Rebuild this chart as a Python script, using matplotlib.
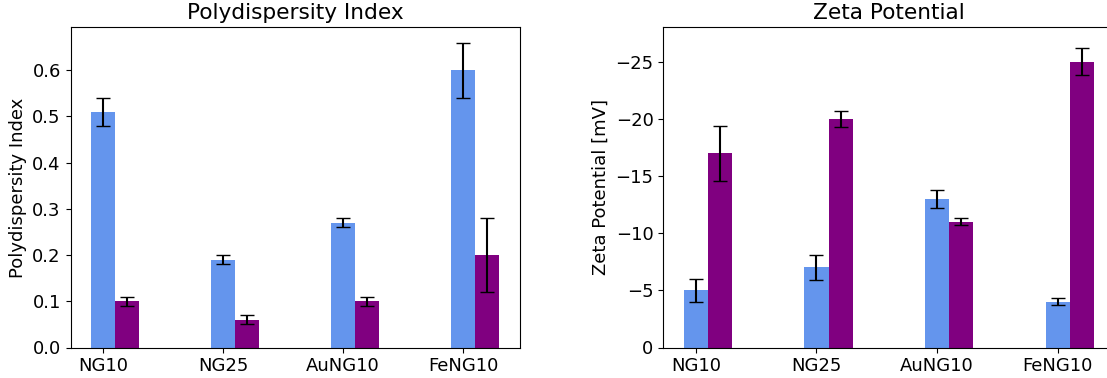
import numpy as np
import matplotlib
matplotlib.use("Agg")
import matplotlib.pyplot as plt

samples = ["NG10", "NG25", "AuNG10", "FeNG10"]

pdi_a = [0.51, 0.19, 0.27, 0.60]
pdi_a_err = [0.03, 0.01, 0.01, 0.06]
pdi_b = [0.10, 0.06, 0.10, 0.20]
pdi_b_err = [0.01, 0.01, 0.01, 0.08]

zeta_a = [-5.0, -7.0, -13.0, -4.0]
zeta_a_err = [1.0, 1.1, 0.8, 0.3]
zeta_b = [-17.0, -20.0, -11.0, -25.0]
zeta_b_err = [2.4, 0.7, 0.3, 1.2]

color_a = "cornflowerblue"
color_b = "purple"
width = 0.2

plt.rcParams["font.size"] = 13

fig = plt.figure(figsize=(11.07, 3.78), dpi=100)
W, H = 1107, 378
ax1 = fig.add_axes([70.5 / W, 30.5 / H, 449 / W, 320.2 / H])
ax2 = fig.add_axes([663.3 / W, 30.5 / H, 451 / W, 320.2 / H])

x = np.arange(len(samples))

ax1.bar(x, pdi_a, width, color=color_a, yerr=pdi_a_err, capsize=5)
ax1.bar(x + width, pdi_b, width, color=color_b, yerr=pdi_b_err, capsize=5)
ax1.set_xticks(x)
ax1.set_xticklabels(samples)
ax1.set_ylabel("Polydispersity Index")
ax1.set_title("Polydispersity Index")

ax2.bar(x, zeta_a, width, color=color_a, yerr=zeta_a_err, capsize=5)
ax2.bar(x + width, zeta_b, width, color=color_b, yerr=zeta_b_err, capsize=5)
ax2.set_xticks(x)
ax2.set_xticklabels(samples)
ax2.set_ylim(0, -28)
ax2.set_ylabel("Zeta Potential [mV]")
ax2.set_title("Zeta Potential")

fig.savefig("out.png", dpi=100)
